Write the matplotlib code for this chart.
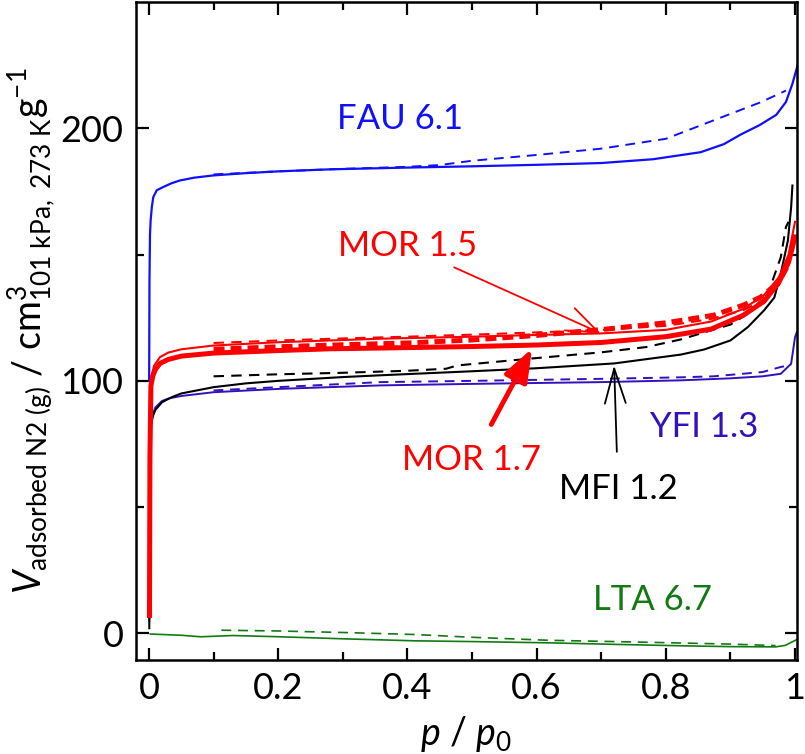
import numpy as np
import matplotlib
matplotlib.use('Agg')
import matplotlib.pyplot as plt

# N2 isotherms, p/p0 vs adsorbed volume (ads = solid, des = dashed)
fau_ads_x = [0.0003, 0.0008, 0.0016, 0.0026, 0.0045, 0.0067, 0.012, 0.022, 0.035, 0.048, 0.07, 0.1,
             0.15, 0.2, 0.28, 0.4, 0.5, 0.6, 0.7, 0.78, 0.854, 0.89, 0.916, 0.945, 0.971, 0.986, 0.996, 1.004]
fau_ads_y = [100, 140, 158, 163.6, 169, 172.8, 175.5, 176.8, 178.3, 179.4, 180.5, 181.4,
             182.3, 183, 183.8, 184.5, 185, 185.6, 186.3, 187.8, 190.6, 193.8, 197.6, 201.3, 205.4, 210.5, 217.7, 225]
fau_des_x = [0.1, 0.2, 0.3, 0.4, 0.45, 0.5, 0.6, 0.7, 0.8, 0.88, 0.947, 0.986]
fau_des_y = [181.8, 183, 184, 184.8, 185.5, 187.2, 189.5, 192, 195.9, 203.8, 210.4, 215]

mor15_ads_x = [0.0005, 0.001, 0.002, 0.004, 0.008, 0.017, 0.03, 0.05, 0.1, 0.2, 0.28, 0.358, 0.5,
               0.6, 0.7, 0.8, 0.87, 0.92, 0.952, 0.975, 0.99, 1.0]
mor15_ads_y = [7, 60, 95, 102, 106, 109.4, 111.2, 112.5, 114, 115.3, 116, 116.7, 117.5,
               118.2, 118.8, 120.2, 123.5, 128.5, 134, 141, 150, 163]
mor15_des_x = [0.1, 0.2, 0.3, 0.4, 0.5, 0.6, 0.7, 0.8, 0.87, 0.92, 0.95, 0.975, 0.99]
mor15_des_y = [115, 116, 116.8, 117.5, 118.3, 119.2, 120.2, 121.8, 124.5, 128, 132, 138, 145]

mor17_ads_x = [0.0008, 0.0015, 0.003, 0.006, 0.01, 0.017, 0.03, 0.05, 0.1, 0.2, 0.28, 0.358, 0.5,
               0.6, 0.7, 0.8, 0.87, 0.92, 0.952, 0.975, 0.99, 1.0]
mor17_ads_y = [7, 70, 98, 102, 104.5, 106.9, 108.5, 109.8, 111, 112, 112.7, 113, 113.6,
               114.2, 115.2, 117.5, 120.5, 126, 131.5, 139, 147, 157]
mor17_des_x = [0.1, 0.2, 0.3, 0.4, 0.5, 0.6, 0.7, 0.8, 0.874, 0.92, 0.947, 0.97, 0.99]
mor17_des_y = [112.5, 113.5, 114.3, 115, 116.2, 118, 120.3, 123, 126, 130, 133.2, 138, 146]

mfi_ads_x = [0.0005, 0.0015, 0.003, 0.006, 0.01, 0.02, 0.035, 0.05, 0.1, 0.15, 0.2, 0.3, 0.358, 0.5,
             0.6, 0.72, 0.823, 0.859, 0.9, 0.927, 0.952, 0.968, 0.978, 0.989, 0.994, 0.996]
mfi_ads_y = [2, 60, 82, 86, 88.5, 91.5, 93.5, 95, 97.5, 99, 100, 101.5, 102.2, 103.8,
             105, 106.9, 110.4, 112.4, 116, 121.3, 127.9, 133, 142.5, 155.6, 168.8, 177.4]
mfi_des_x = [0.1, 0.2, 0.3, 0.4, 0.46, 0.477, 0.59, 0.7, 0.77, 0.823, 0.9, 0.927, 0.958, 0.978, 0.986, 0.99]
mfi_des_y = [101.8, 102.6, 103.2, 104, 104.8, 106.1, 108.8, 111.3, 113.4, 116.4, 122.3, 126.6, 134.5, 149, 161, 163]

yfi_ads_x = [0.0005, 0.0015, 0.003, 0.006, 0.01, 0.02, 0.03, 0.05, 0.1, 0.2, 0.358, 0.5, 0.7, 0.823,
             0.9, 0.95, 0.978, 0.994, 1.0, 1.003]
yfi_ads_y = [5, 60, 82, 87, 89.5, 92, 93, 94, 95.5, 96.8, 98.2, 98.8, 99.5, 100.2,
             101, 101.8, 102.8, 106.8, 117.3, 119.4]
yfi_des_x = [0.1, 0.2, 0.358, 0.5, 0.7, 0.823, 0.874, 0.95, 0.978, 0.994]
yfi_des_y = [96.2, 97.5, 99.5, 100, 100.8, 101.4, 101.8, 103.5, 105.5, 106.3]

lta_ads_x = [0.002, 0.05, 0.08, 0.13, 0.203, 0.3, 0.412, 0.5, 0.62, 0.72, 0.83, 0.9, 0.97, 0.985, 0.995, 1.003]
lta_ads_y = [-0.3, -0.8, -1.4, -0.9, -1.4, -2.2, -3.0, -3.3, -3.8, -4.4, -5.0, -5.3, -5.4, -4.8, -3.5, -2.5]
lta_des_x = [0.112, 0.2, 0.3, 0.412, 0.5, 0.62, 0.72, 0.83, 0.9, 0.97]
lta_des_y = [1.2, 0.9, 0.3, -0.5, -1.6, -2.8, -3.3, -3.9, -4.3, -4.9]

c_fau = '#1010ff'
c_mor = '#ff0000'
c_mfi = '#000000'
c_yfi = '#3311bb'
c_lta = '#127a12'

plt.rcParams['font.family'] = ['Lato', 'DejaVu Sans']
plt.rcParams['mathtext.fontset'] = 'custom'
plt.rcParams['mathtext.rm'] = 'Lato'
plt.rcParams['mathtext.it'] = 'Lato:italic'

fig = plt.figure(figsize=(8.05, 7.54), dpi=100)
ax = fig.add_axes([0.169, 0.125, 0.821, 0.872])

thin = 1.2
ax.plot(lta_ads_x, lta_ads_y, color=c_lta, lw=thin)
ax.plot(lta_des_x, lta_des_y, color=c_lta, lw=thin, dashes=(6, 4))
ax.plot(fau_ads_x, fau_ads_y, color=c_fau, lw=1.6)
ax.plot(fau_des_x, fau_des_y, color=c_fau, lw=1.4, dashes=(5, 3.5))
ax.plot(yfi_ads_x, yfi_ads_y, color=c_yfi, lw=1.4)
ax.plot(yfi_des_x, yfi_des_y, color=c_yfi, lw=1.4, dashes=(5, 3.5))
ax.plot(mfi_ads_x, mfi_ads_y, color=c_mfi, lw=1.5)
ax.plot(mfi_des_x, mfi_des_y, color=c_mfi, lw=1.5, dashes=(5, 3.5))
ax.plot(mor15_ads_x, mor15_ads_y, color=c_mor, lw=1.5)
ax.plot(mor15_des_x, mor15_des_y, color=c_mor, lw=1.5, dashes=(5, 3.5))
ax.plot(mor17_ads_x, mor17_ads_y, color=c_mor, lw=3.6)
ax.plot(mor17_des_x, mor17_des_y, color=c_mor, lw=3.6, dashes=(2.2, 1.2))

fs = 25
ax.text(0.389, 203.6, 'FAU 6.1', color=c_fau, fontsize=fs, ha='center', va='center')
ax.annotate('MOR 1.5', xy=(0.699, 118.9), xytext=(0.40, 153.3), color=c_mor, fontsize=fs,
            ha='center', va='center',
            arrowprops=dict(arrowstyle='->,head_length=0.9,head_width=0.35', color=c_mor, lw=1.3,
                            shrinkA=4, shrinkB=0))
ax.annotate('MOR 1.7', xy=(0.593, 112.8), xytext=(0.50, 68.5), color=c_mor, fontsize=fs,
            ha='center', va='center',
            arrowprops=dict(arrowstyle='-|>,head_length=0.8,head_width=0.3', color=c_mor, lw=3.5,
                            shrinkA=14, shrinkB=0))
ax.annotate('MFI 1.2', xy=(0.72, 106.1), xytext=(0.726, 57.3), color=c_mfi, fontsize=fs,
            ha='center', va='center',
            arrowprops=dict(arrowstyle='->,head_length=1.0,head_width=0.3', color=c_mfi, lw=1.3,
                            shrinkA=13, shrinkB=0))
ax.text(0.859, 81.6, 'YFI 1.3', color=c_yfi, fontsize=fs, ha='center', va='center')
ax.text(0.779, 13.1, 'LTA 6.7', color=c_lta, fontsize=fs, ha='center', va='center')

ax.set_xlim(-0.02, 1.003)
ax.set_ylim(-10.5, 250)
ax.set_xticks([0, 0.2, 0.4, 0.6, 0.8, 1.0])
ax.set_xticklabels(['0', '0.2', '0.4', '0.6', '0.8', '1'])
ax.set_xticks(np.arange(0.1, 1.0, 0.2), minor=True)
ax.set_yticks([0, 100, 200])
ax.set_yticks([50, 150], minor=True)
ax.tick_params(which='both', direction='in', top=True, right=True, width=1.6, labelsize=26, pad=9)
ax.tick_params(which='major', length=9)
ax.tick_params(which='minor', length=6)
for s in ax.spines.values():
    s.set_linewidth(1.8)

ax.set_xlabel(r'$p$ / $p_{\mathregular{0}}$', fontsize=27, labelpad=6)
ax.set_ylabel(r'$V_{\mathregular{adsorbed\ N2\ (g)}}$ / cm$^{3}_{\mathregular{101\ kPa,\ 273\ K}}$g$^{-1}$',
              fontsize=27, labelpad=2)

fig.savefig('out.png', dpi=100)
